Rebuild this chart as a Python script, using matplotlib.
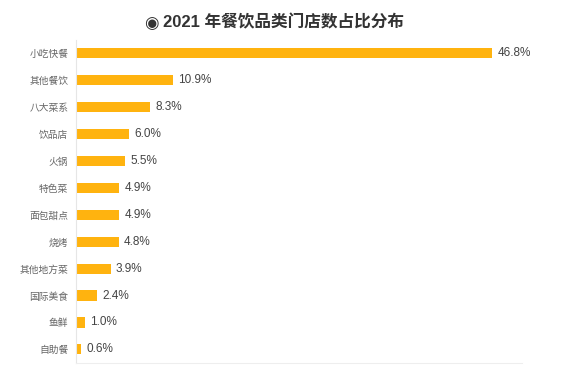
import matplotlib
matplotlib.use("Agg")
import matplotlib.pyplot as plt

plt.rcParams['font.family'] = ['Liberation Sans', 'Noto Sans CJK SC']

categories = ["小吃快餐", "其他餐饮", "八大菜系", "饮品店", "火锅", "特色菜",
              "面包甜点", "烧烤", "其他地方菜", "国际美食", "鱼鲜", "自助餐"]
shares = [46.8, 10.9, 8.3, 6.0, 5.5, 4.9, 4.9, 4.8, 3.9, 2.4, 1.0, 0.6]
title = "2021 年餐饮品类门店数占比分布"

bar_color = "#FFB30F"

fig = plt.figure(figsize=(5.75, 3.76), dpi=100)
ax = fig.add_axes([0.132, 0.035, 0.776, 0.859])

y = list(range(len(categories)))
ax.barh(y, shares, height=0.38, color=bar_color)
ax.set_ylim(len(categories) - 0.5, -0.5)
ax.set_xlim(0, 50.2)
ax.set_yticks(y)
ax.set_yticklabels(categories, fontsize=7, color="#666666",
                   family=["Noto Sans CJK SC"])
ax.tick_params(axis="y", length=0, pad=5.5)
ax.set_xticks([])

for yi, v in zip(y, shares):
    ax.text(v + 0.6, yi, f"{v:.1f}%", va="center", ha="left",
            fontsize=8.5, color="#444444")

for s in ["top", "right"]:
    ax.spines[s].set_visible(False)
ax.spines["left"].set_color("#e6e6e6")
ax.spines["bottom"].set_color("#eeeeee")
ax.spines["left"].set_linewidth(0.8)
ax.spines["bottom"].set_linewidth(0.8)

fig.text(0.264, 0.94, "◉", fontsize=12, color="#333333", va="center", ha="center",
         family=["DejaVu Sans"])
fig.text(0.283, 0.94, title, fontsize=12, color="#333333", va="center", ha="left",
         fontweight="bold")

fig.savefig("out.png", dpi=100)
